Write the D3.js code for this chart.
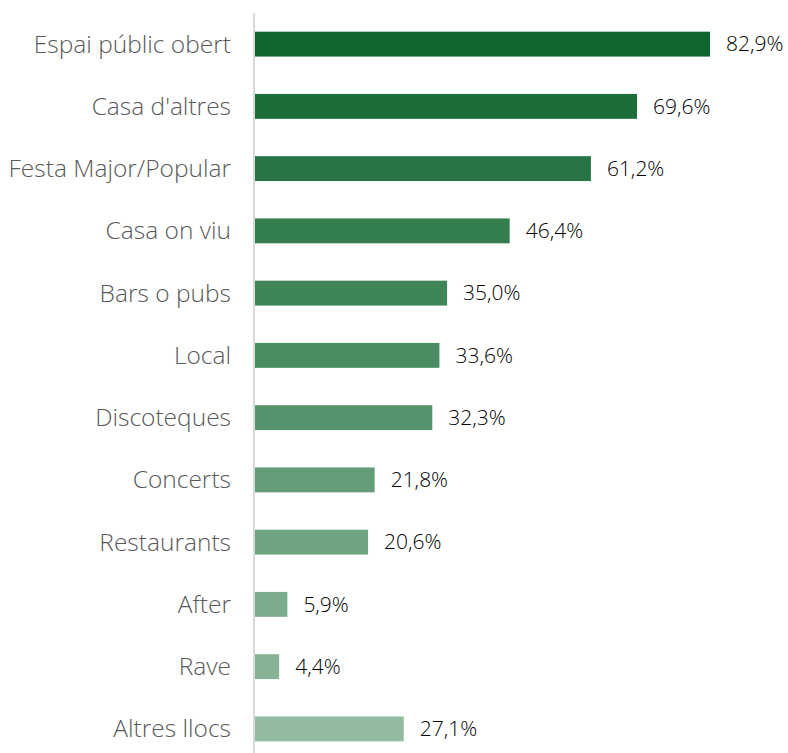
<!DOCTYPE html>
<html>
<head>
<meta charset="utf-8">
<script src="https://cdn.jsdelivr.net/npm/d3@7"></script>
<style>
  html, body { margin: 0; padding: 0; background: #fff; }
  svg { display: block; }
</style>
</head>
<body>
<svg id="chart" width="788" height="753"></svg>
<script>
// Llocs de consum (% de respostes)
const categories = [
  "Espai públic obert", "Casa d'altres", "Festa Major/Popular", "Casa on viu",
  "Bars o pubs", "Local", "Discoteques", "Concerts", "Restaurants",
  "After", "Rave", "Altres llocs"
];
const values = [82.9, 69.6, 61.2, 46.4, 35.0, 33.6, 32.3, 21.8, 20.6, 5.9, 4.4, 27.1];

const W = 788, H = 753;
const x0 = 255;
const svg = d3.select("#chart");
const font = "'Open Sans', sans-serif";

const x = d3.scaleLinear().domain([0, 82.9]).range([x0, 710]);
const y = d3.scaleBand().domain(categories).range([13, 760]).paddingInner(0.6).paddingOuter(0.3);

const shade = d3.interpolateRgb("#0f6630", "#93bb9f");
const color = (i) => shade(i / (categories.length - 1));

// bars
svg.append("g").selectAll("rect").data(values).join("rect")
  .attr("x", x0)
  .attr("y", (d, i) => y(categories[i]))
  .attr("width", d => x(d) - x0)
  .attr("height", y.bandwidth())
  .attr("fill", (d, i) => color(i));

// vertical axis line
svg.append("line")
  .attr("x1", 254).attr("x2", 254)
  .attr("y1", 13).attr("y2", H)
  .attr("stroke", "#d9d9d9").attr("stroke-width", 2);

// category labels
svg.append("g").selectAll("text").data(categories).join("text")
  .attr("x", 231)
  .attr("y", d => y(d) + y.bandwidth() / 2)
  .attr("dy", "0.35em")
  .attr("text-anchor", "end")
  .attr("font-family", font)
  .attr("font-size", 24.5)
  .attr("font-weight", 300)
  .attr("fill", "#595959")
  .text(d => d);

// value labels
const fmt = v => v.toFixed(1).replace(".", ",") + "%";
svg.append("g").selectAll("text").data(values).join("text")
  .attr("x", d => x(d) + 16)
  .attr("y", (d, i) => y(categories[i]) + y.bandwidth() / 2)
  .attr("dy", "0.35em")
  .attr("font-family", font)
  .attr("font-size", 21)
  .attr("font-weight", 300)
  .attr("fill", "#000")
  .text(fmt);
</script>
</body>
</html>
